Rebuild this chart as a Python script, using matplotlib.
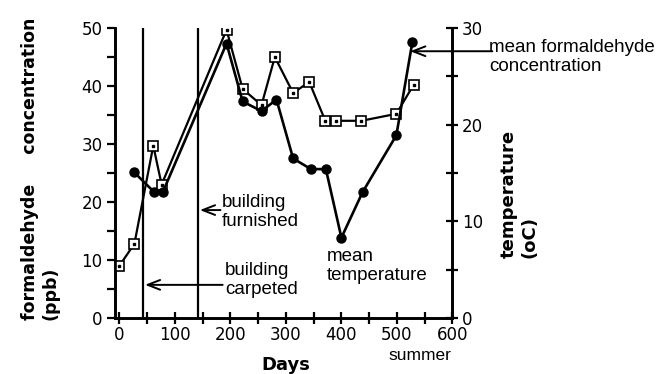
import matplotlib.pyplot as plt
from matplotlib.ticker import MultipleLocator

plt.rcParams['font.family'] = ['Liberation Sans', 'DejaVu Sans']

# formaldehyde (open squares, left axis, ppb)
sq_days = [0, 27, 61, 76, 193, 222, 256, 280, 313, 342, 371, 391, 436, 499, 530]
sq_ppb = [9.0, 12.8, 29.7, 23.0, 49.7, 39.5, 36.7, 45.0, 38.8, 40.7, 34.0, 34.0, 34.0, 35.2, 40.2]

# temperature (filled circles, right axis, oC)
ci_days = [26, 63, 78, 193, 222, 256, 283, 313, 345, 372, 400, 438, 499, 528]
ci_temp = [15.1, 13.0, 13.0, 28.4, 22.4, 21.4, 22.6, 16.5, 15.4, 15.4, 8.3, 13.0, 18.9, 28.6]

carpeted_day = 42
furnished_day = 142

fig = plt.figure(figsize=(6.59, 3.74), dpi=100)
ax = fig.add_axes([0.1745, 0.150, 0.512, 0.775])
ax2 = ax.twinx()

ax.plot(sq_days, sq_ppb, color='black', lw=1.6, marker='s', ms=7,
        mfc='white', mec='black', mew=1.2, zorder=3)
ax.plot(sq_days, sq_ppb, ls='none', marker='s', ms=1.8, color='black', zorder=4)
ax2.plot(ci_days, ci_temp, color='black', lw=1.9, marker='o', ms=6.5,
         mfc='black', mec='black', zorder=3)

ax.vlines([carpeted_day, furnished_day], 0, 50, color='black', lw=1.6)

ax.set_xlim(-8, 600)
ax.set_ylim(0, 50)
ax2.set_ylim(0, 30)

for a in (ax, ax2):
    a.spines['top'].set_visible(False)
    for s in a.spines.values():
        s.set_linewidth(1.9)

ax.xaxis.set_major_locator(MultipleLocator(100))
ax.xaxis.set_minor_locator(MultipleLocator(50))
ax.yaxis.set_major_locator(MultipleLocator(10))
ax.yaxis.set_minor_locator(MultipleLocator(5))
ax2.yaxis.set_major_locator(MultipleLocator(10))
ax2.yaxis.set_minor_locator(MultipleLocator(5))

tick_font = dict(family='DejaVu Sans', size=12)
ax.tick_params(axis='both', which='both', width=1.6)
ax.tick_params(axis='x', which='both', direction='inout', length=8, pad=2)
ax.tick_params(axis='y', which='both', direction='out', length=6, pad=3)
ax2.tick_params(axis='y', which='both', direction='inout', width=1.6, length=8, pad=3)
for lab in ax.get_xticklabels() + ax.get_yticklabels() + ax2.get_yticklabels():
    lab.set_fontproperties(tick_font)

# axis titles
fig.text(21 / 659, 1 - 320 / 374, 'formaldehyde     concentration\n(ppb)', rotation=90,
         ha='left', va='bottom', multialignment='left', fontsize=12.5,
         fontweight='bold', family='DejaVu Sans', linespacing=1.2)
fig.text(500 / 659, 1 - 194 / 374, 'temperature\n(oC)', rotation=90,
         ha='left', va='center', multialignment='left', fontsize=13,
         fontweight='bold', family='DejaVu Sans', linespacing=1.2)
fig.text(286 / 659, 1 - 365 / 374, 'Days', ha='center', va='center',
         fontsize=13, fontweight='bold', family='DejaVu Sans')
fig.text(420 / 659, 1 - 356 / 374, 'summer', ha='center', va='center', fontsize=12.5)

arrow = dict(arrowstyle='->,head_length=0.9,head_width=0.35', color='black', lw=1.4,
             shrinkA=0, shrinkB=0)

txt = dict(fontsize=13.5, va='center', ha='left', linespacing=1.15)

ax.text(184, 18.3, 'building\nfurnished', **txt)
ax.annotate('', xy=(furnished_day + 3, 18.6), xytext=(182, 18.6), arrowprops=arrow)

ax.text(190, 6.6, 'building\ncarpeted', **txt)
ax.annotate('', xy=(carpeted_day + 4, 5.7), xytext=(186, 5.7), arrowprops=arrow)

ax.text(374, 9.0, 'mean\ntemperature', **txt)

ax.text(666, 45.0, 'mean formaldehyde\nconcentration', clip_on=False, **txt)
ax.annotate('', xy=(524, 46.0), xytext=(672, 46.0), arrowprops=arrow,
            annotation_clip=False)

fig.savefig('out.png', dpi=100)
